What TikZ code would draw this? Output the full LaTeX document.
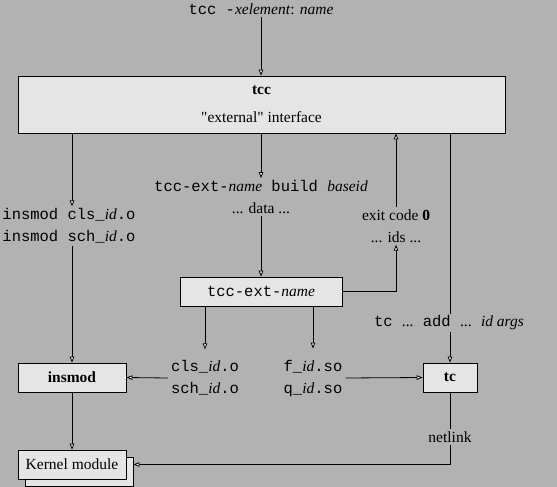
\documentclass[tikz,border=0pt]{standalone}
\usepackage{fontspec}
\setmainfont{Liberation Serif}[Ligatures=TeXOff]
\setmonofont{Liberation Mono}
\usepackage{xcolor}
\usepackage{tikz}
\usetikzlibrary{arrows.meta, positioning}
\definecolor{bggray}{gray}{0.7}
\definecolor{boxgray}{gray}{0.9}
\tikzset{
  flowbox/.style={
    draw, thick, fill=boxgray, align=center,
    inner sep=2pt, font=\fontsize{15.5}{22}\selectfont
  },
  flowlabel/.style={
    align=center, inner sep=2pt, font=\fontsize{15.5}{22}\selectfont
  },
  filelabel/.style={flowlabel, align=left, inner ysep=11pt, inner xsep=3pt},
  flowarrow/.style={-{Triangle[length=6pt,width=4.5pt,fill=white]}, thick},
  flowline/.style={thick},
}

\begin{document}
\begin{tikzpicture}[x=1pt, y=-1pt]
  \fill[bggray] (0,0) rectangle (557,487);
  \useasboundingbox (0,0) rectangle (557,487);

  % Command line
  \node[flowlabel] (cmd) at (261,9) {\texttt{tcc -}\textit{xelement}: \textit{name}};

  % tcc
  \node[flowbox, minimum width=487pt, minimum height=57pt] (tcc) at (261.5,104.5)
    {\textbf{tcc}\\[6pt]"external" interface};

  % Intermediate labels
  \node[flowlabel, align=left] (inslbl) at (69,226)
    {\texttt{insmod cls\_}\textit{id}\texttt{.o}\\\texttt{insmod sch\_}\textit{id}\texttt{.o}};
  \node[flowlabel] (buildlbl) at (261,197)
    {\texttt{tcc-ext-}\textit{name}\texttt{ build }\textit{baseid}\\... data ...};
  \node[flowlabel] (exitlbl) at (396,226) {exit code \textbf{0}\\... ids ...};

  % External program
  \node[flowbox, minimum width=162pt, minimum height=29pt] (ext) at (261,291.5)
    {\texttt{tcc-ext-}\textit{name}};

  % Generated files
  \node[filelabel] (objlbl) at (205,378)
    {\texttt{cls\_}\textit{id}\texttt{.o}\\\texttt{sch\_}\textit{id}\texttt{.o}};
  \node[filelabel] (solbl) at (313,378)
    {\texttt{f\_}\textit{id}\texttt{.so}\\\texttt{q\_}\textit{id}\texttt{.so}};
  \node[flowlabel] (tclbl) at (449,323)
    {\texttt{tc }...\texttt{ add }...\texttt{ }\textit{id args}};

  % Tools
  \node[flowbox, minimum width=108pt, minimum height=29pt] (insmod) at (72,377.5) {\textbf{insmod}};
  \node[flowbox, minimum width=54pt, minimum height=29pt] (tc) at (450,377.5) {\textbf{tc}};
  \node[flowlabel] (netlink) at (450,437) {netlink};

  % Kernel
  \node[flowbox, minimum width=108pt, minimum height=29pt] (kback) at (79,472) {};
  \node[flowbox, minimum width=108pt, minimum height=29pt] (kernel) at (72,464.5) {Kernel module};

  % Arrows
  \draw[flowarrow] (cmd) -- (tcc.north -| cmd);
  \draw[flowarrow] (tcc.south -| insmod) -- (inslbl.north -| insmod);
  \draw[flowarrow] (inslbl.south -| insmod) -- (insmod.north);
  \draw[flowarrow] (tcc.south -| buildlbl) -- (buildlbl.north);
  \draw[flowarrow] (buildlbl.south) -- (ext.north -| buildlbl);
  \draw[flowarrow] (ext.east) -| (exitlbl.south);
  \draw[flowarrow] (exitlbl.north) -- (tcc.south -| exitlbl);
  \draw[flowline] (tcc.south -| tc) -- (tclbl.north -| tc);
  \draw[flowarrow] (tclbl.south -| tc) -- (tc.north);
  \draw[flowarrow] (ext.south -| objlbl) -- (objlbl.north);
  \draw[flowarrow] (ext.south -| solbl) -- (solbl.north);
  \draw[flowarrow] (objlbl.west) -- (insmod.east);
  \draw[flowarrow] (solbl.east) -- (tc.west);
  \draw[flowarrow] (insmod) -- (kernel.north);
  \draw[flowline] (tc) -- (netlink);
  \draw[flowarrow] (netlink.south) |- (kernel.east -| kback.east);
\end{tikzpicture}
\end{document}
